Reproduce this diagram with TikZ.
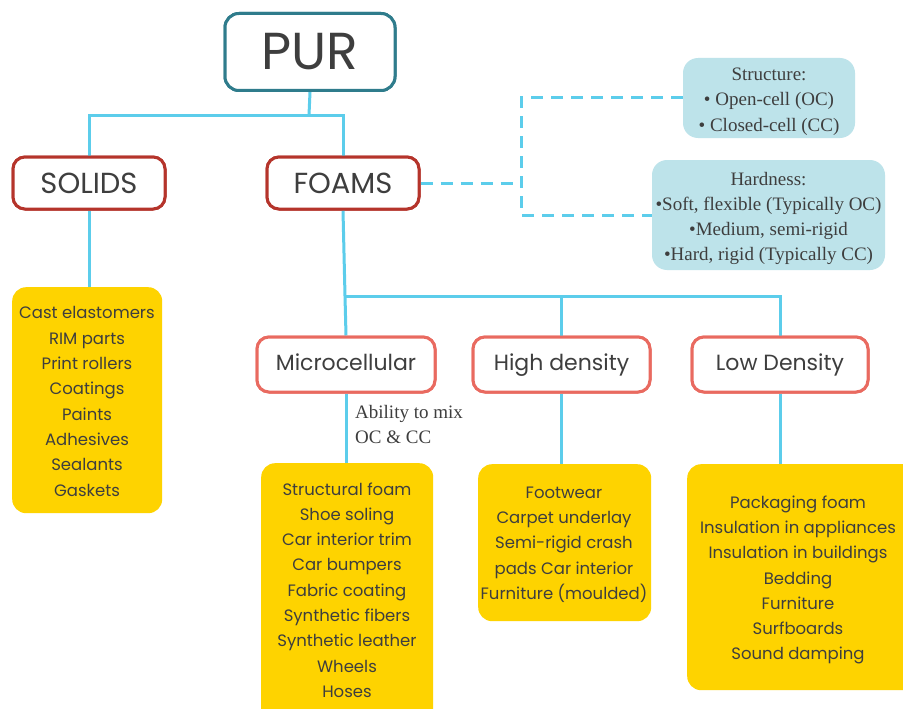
\documentclass[tikz,border=0pt]{standalone}
\usepackage{fontspec}
\setmainfont{Poppins}
\newfontfamily\serifx{Liberation Serif}
\definecolor{linec}{HTML}{5CCDEB}
\definecolor{teal}{HTML}{2F7C8C}
\definecolor{darkred}{HTML}{B5342B}
\definecolor{salmon}{HTML}{E96A60}
\definecolor{yel}{HTML}{FED300}
\definecolor{lblue}{HTML}{BDE3EA}
\definecolor{txt}{HTML}{3E3E3E}
\begin{document}
\begin{tikzpicture}[x=1pt,y=-1pt,
  conn/.style={draw=linec,line width=3pt},
  dashconn/.style={draw=linec,line width=3pt,dash pattern=on 12pt off 8pt},
  topbox/.style={draw=teal,line width=3pt,rounded corners=14pt,fill=white,minimum width=170pt,minimum height=77pt,text=txt,font=\fontsize{52}{60}\selectfont},
  catbox/.style={draw=darkred,line width=3pt,rounded corners=12pt,fill=white,minimum width=152pt,minimum height=52pt,text=txt,font=\fontsize{29}{34}\selectfont},
  subbox/.style={draw=salmon,line width=3pt,rounded corners=12pt,fill=white,minimum height=55pt,text height=15pt,text depth=3pt,text=txt,font=\fontsize{22}{26}\selectfont},
  yelbox/.style={fill=yel,rounded corners=14pt,inner sep=0pt,anchor=north west},
  listtxt/.style={inner sep=0pt,align=center,text=txt,font=\fontsize{16.5}{25.3}\selectfont},
  bluebox/.style={fill=lblue,rounded corners=15pt,inner sep=0pt},
  serifnote/.style={inner sep=0pt,align=center,text=txt,font=\serifx\fontsize{19}{25.3}\selectfont}
]
\clip (0,0) rectangle (903,709);
\fill[white] (0,0) rectangle (903,709);

% coordinates
\coordinate (j1) at (309,115);
\coordinate (j2) at (345,296);
\coordinate (dc) at (521,150);

% yellow boxes
\node[yelbox,minimum width=150pt,minimum height=226pt] (ysol) at (12,287) {};
\node[yelbox,minimum width=172pt,minimum height=270pt] (ymic) at (261,463) {};
\node[yelbox,minimum width=173pt,minimum height=157pt] (yhigh) at (478,464) {};
\node[yelbox,minimum width=240pt,minimum height=226pt] (ylow) at (687,464) {};

% blue boxes
\node[bluebox,minimum width=172pt,minimum height=80pt] (struct) at (769,98) {};
\node[bluebox,minimum width=233pt,minimum height=110pt] (hard) at (768.5,215) {};

% main nodes
\node[topbox] (pur) at (310,52) {PUR};
\node[catbox] (solids) at (89,183) {SOLIDS};
\node[catbox] (foams) at (343,183) {FOAMS};
\node[subbox,minimum width=178pt] (micro) at (346,364.5) {Microcellular};
\node[subbox,minimum width=177pt] (high) at (561.5,364.5) {High density};
\node[subbox,minimum width=176pt] (low) at (780,364.5) {Low Density};

% connectors
\draw[conn] (pur.south) -- (j1);
\draw[conn] (solids.north) |- (j1) -| (foams.north);
\draw[conn] (foams.south) -- (j2);
\draw[conn] (j2) -| (high.north);
\draw[conn] (j2) -| (low.north);
\draw[conn] (j2) -- (micro.north);
\draw[conn] (solids.south) -- (ysol.north -| solids.south);
\draw[conn] (micro.south) -- (ymic.north -| micro.south);
\draw[conn] (high.south) -- (yhigh.north -| high.south);
\draw[conn] (low.south) -- (ylow.north -| low.south);
\draw[dashconn] (foams.east) -- (foams.east -| dc);
\draw[dashconn] (struct.west) -| (dc) |- (hard.west);

% redraw box borders over line ends
\node[topbox] at (pur) {PUR};
\node[catbox] at (solids) {SOLIDS};
\node[catbox] at (foams) {FOAMS};
\node[subbox,minimum width=178pt] at (micro) {Microcellular};
\node[subbox,minimum width=177pt] at (high) {High density};
\node[subbox,minimum width=176pt] at (low) {Low Density};

% texts
\node[listtxt] (tsol) at (87,401.5) {Cast elastomers\\RIM parts\\Print rollers\\Coatings\\Paints\\Adhesives\\Sealants\\Gaskets};
\node[listtxt] (tmic) at (347,590) {Structural foam\\Shoe soling\\Car interior trim\\Car bumpers\\Fabric coating\\Synthetic fibers\\Synthetic leather\\Wheels\\Hoses};
\node[listtxt] (thigh) at (564,544.5) {Footwear\\Carpet underlay\\Semi-rigid crash\\pads Car interior\\Furniture (moulded)};
\node[listtxt] (tlow) at (798,580) {Packaging foam\\Insulation in appliances\\Insulation in buildings\\Bedding\\Furniture\\Surfboards\\Sound damping};
\node[serifnote] (tstruct) at (769,101.5) {Structure:\\• Open-cell (OC)\\• Closed-cell (CC)};
\node[serifnote] (thard) at (768.5,218.5) {Hardness:\\•Soft, flexible (Typically OC)\\•Medium, semi-rigid\\•Hard, rigid (Typically CC)};
\node[serifnote,align=left,anchor=north west] (ability) at (355,405) {Ability to mix\\OC \& CC};
\end{tikzpicture}
\end{document}
